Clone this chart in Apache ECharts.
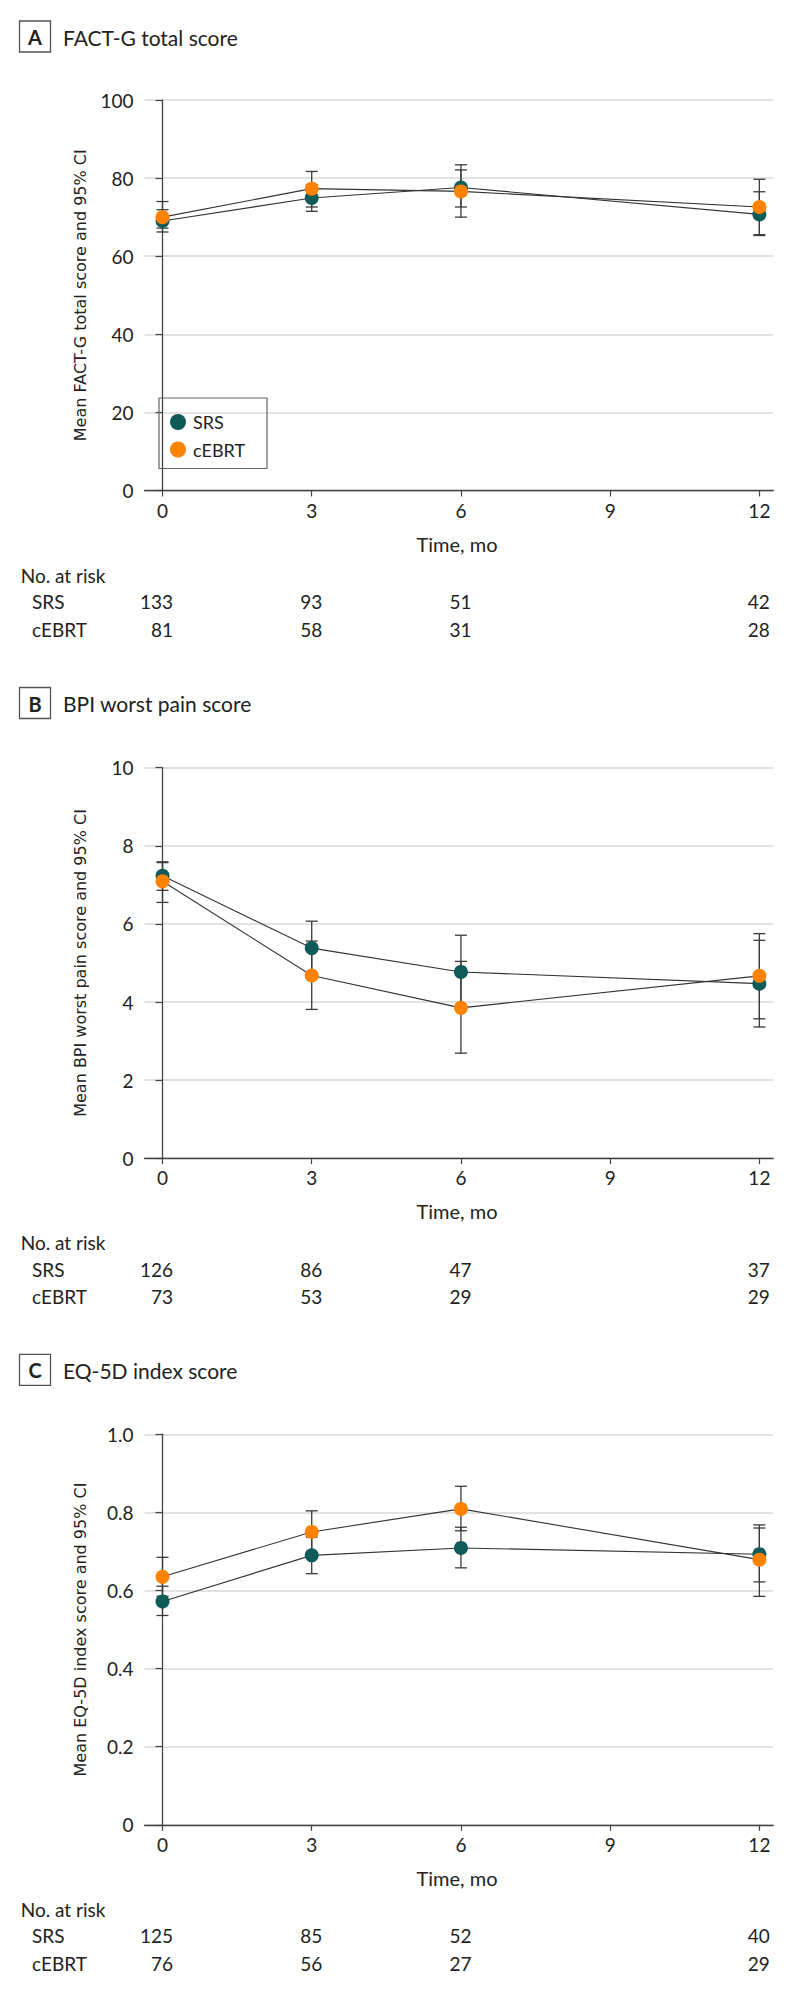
<!DOCTYPE html>
<html>
<head>
<meta charset="utf-8">
<script src="https://cdn.jsdelivr.net/npm/echarts@6/dist/echarts.min.js"></script>
<style>
html,body{margin:0;padding:0;background:#fff;}
#chart{width:794px;height:1993px;}
</style>
</head>
<body>
<div id="chart"></div>
<script>
// ---------- data ----------
const months = [0, 3, 6, 12];
const xTicks = [0, 3, 6, 9, 12];

const factSrsMean  = [69.0, 74.9, 77.6, 70.7];
const factSrsLow   = [66.2, 71.5, 72.6, 65.3];
const factSrsHigh  = [71.9, 78.3, 82.1, 76.5];
const factEbrtMean = [70.0, 77.3, 76.6, 72.6];
const factEbrtLow  = [67.2, 72.6, 70.0, 65.5];
const factEbrtHigh = [74.0, 81.7, 83.4, 79.7];

const bpiSrsMean  = [7.23, 5.38, 4.77, 4.47];
const bpiSrsLow   = [6.86, 4.69, 3.83, 3.36];
const bpiSrsHigh  = [7.59, 6.07, 5.71, 5.58];
const bpiEbrtMean = [7.09, 4.68, 3.85, 4.67];
const bpiEbrtLow  = [6.55, 3.81, 2.69, 3.57];
const bpiEbrtHigh = [7.57, 5.56, 5.04, 5.75];

const eqSrsMean  = [0.572, 0.690, 0.709, 0.693];
const eqSrsLow   = [0.536, 0.643, 0.658, 0.622];
const eqSrsHigh  = [0.611, 0.737, 0.762, 0.760];
const eqEbrtMean = [0.635, 0.750, 0.809, 0.679];
const eqEbrtLow  = [0.585, 0.696, 0.753, 0.585];
const eqEbrtHigh = [0.685, 0.804, 0.867, 0.768];

const factRiskSrs = [133, 93, 51, 42];
const factRiskEbrt = [81, 58, 31, 28];
const bpiRiskSrs = [126, 86, 47, 37];
const bpiRiskEbrt = [73, 53, 29, 29];
const eqRiskSrs = [125, 85, 52, 40];
const eqRiskEbrt = [76, 56, 27, 29];

const panelLetters = ['A', 'B', 'C'];
const panelTitles = ['FACT-G total score', 'BPI worst pain score', 'EQ-5D index score'];
const yTitles = ['Mean FACT-G total score and 95% CI', 'Mean BPI worst pain score and 95% CI', 'Mean EQ-5D index score and 95% CI'];
const yMax = [100, 10, 1.0];
const yStep = [20, 2, 0.2];
const groupNames = ['SRS', 'cEBRT'];
const xAxisTitle = 'Time, mo';
const riskTitle = 'No. at risk';

// ---------- layout ----------
const COLORS = {SRS: '#0f5b5a', cEBRT: '#ff8300'};
const TXT = '#222';
const FONT = 'Lato, "Noto Sans", sans-serif';
const gridTops = [100, 767.7, 1434.3];
const gridH = 390.5;
const gridLeft = 144.5;
const gridRight = 20.7;
const boxTops = [21, 687.5, 1354.3];

const panels = [
  {srs: [factSrsMean, factSrsLow, factSrsHigh], ebrt: [factEbrtMean, factEbrtLow, factEbrtHigh], risk: [factRiskSrs, factRiskEbrt]},
  {srs: [bpiSrsMean, bpiSrsLow, bpiSrsHigh], ebrt: [bpiEbrtMean, bpiEbrtLow, bpiEbrtHigh], risk: [bpiRiskSrs, bpiRiskEbrt]},
  {srs: [eqSrsMean, eqSrsLow, eqSrsHigh], ebrt: [eqEbrtMean, eqEbrtLow, eqEbrtHigh], risk: [eqRiskSrs, eqRiskEbrt]}
];

function errRender(params, api) {
  const x = api.value(0), lo = api.value(1), hi = api.value(2);
  const a = api.coord([x, hi]), b = api.coord([x, lo]);
  const w = 6;
  const st = {stroke: '#3a3a3a', lineWidth: 1.3};
  return {type: 'group', children: [
    {type: 'line', shape: {x1: a[0], y1: a[1], x2: b[0], y2: b[1]}, style: st},
    {type: 'line', shape: {x1: a[0] - w, y1: a[1], x2: a[0] + w, y2: a[1]}, style: st},
    {type: 'line', shape: {x1: b[0] - w, y1: b[1], x2: b[0] + w, y2: b[1]}, style: st}
  ]};
}

const grids = [], xAxes = [], yAxes = [], series = [];
panels.forEach((p, i) => {
  grids.push({left: gridLeft, right: gridRight, top: gridTops[i], height: gridH, containLabel: false});
  xAxes.push({
    type: 'value', gridIndex: i, min: -0.362, max: 12.28,
    axisLine: {show: true, lineStyle: {color: '#444', width: 1.3}},
    axisTick: {show: true, customValues: xTicks, length: 6, lineStyle: {color: '#444', width: 1.2}},
    axisLabel: {customValues: xTicks, fontSize: 19, fontFamily: FONT, color: TXT, margin: 10},
    splitLine: {show: false}
  });
  yAxes.push({
    type: 'value', gridIndex: i, min: 0, max: yMax[i], interval: yStep[i],
    axisLine: {show: true, lineStyle: {color: '#444', width: 1.3}},
    axisTick: {show: true, length: 7, lineStyle: {color: '#444', width: 1.2}},
    axisLabel: {fontSize: 19, fontFamily: FONT, color: TXT, margin: 11,
      formatter: v => (i === 2 ? (v === 0 ? '0' : v.toFixed(1)) : String(v))},
    splitLine: {show: true, lineStyle: {color: '#d9d9d9', width: 1.6}}
  });
  [['SRS', p.srs], ['cEBRT', p.ebrt]].forEach(([name, arr], k) => {
    series.push({
      type: 'custom', name: name + ' CI', xAxisIndex: i, yAxisIndex: i, z: 1,
      renderItem: errRender, encode: {x: 0, y: [1, 2]},
      data: months.map((m, j) => [m, arr[1][j], arr[2][j]]),
      silent: true, animation: false
    });
  });
  [['SRS', p.srs], ['cEBRT', p.ebrt]].forEach(([name, arr], k) => {
    series.push({
      type: 'line', name: name, xAxisIndex: i, yAxisIndex: i, z: 2 + k,
      data: months.map((m, j) => [m, arr[0][j]]),
      symbol: 'circle', symbolSize: 14, showSymbol: true,
      itemStyle: {color: COLORS[name]},
      lineStyle: {color: '#333', width: 1.1},
      emphasis: {disabled: true}, silent: true, animation: false
    });
  });
});

const chart = echarts.init(document.getElementById('chart'), null, {renderer: 'svg'});
chart.setOption({
  animation: false,
  backgroundColor: '#fff',
  grid: grids, xAxis: xAxes, yAxis: yAxes, series: series,
  legend: {
    data: groupNames, orient: 'vertical', left: 159, top: 398,
    icon: 'circle', itemWidth: 20, itemHeight: 16, itemGap: 9.5,
    padding: [15, 22, 10, 11],
    borderColor: '#666', borderWidth: 1.2,
    textStyle: {fontSize: 18, fontFamily: FONT, color: TXT, lineHeight: 18},
    selectedMode: false
  }
});

// ---------- text via graphic ----------
const g = [];
panels.forEach((p, i) => {
  const bt = boxTops[i];
  const gTop = gridTops[i], gBot = gridTops[i] + gridH;
  g.push({type: 'rect', shape: {x: 19.5, y: bt, width: 31, height: 31},
    style: {fill: 'none', stroke: '#555', lineWidth: 1.3}});
  g.push({type: 'text', x: 35, y: bt + 16, style: {text: panelLetters[i], font: 'bold 20px ' + FONT,
    fill: TXT, align: 'center', verticalAlign: 'middle'}});
  g.push({type: 'text', x: 63, y: bt + 16, style: {text: panelTitles[i], font: '21px ' + FONT,
    fill: TXT, align: 'left', verticalAlign: 'middle'}});
  g.push({type: 'text', x: 80, y: (gTop + gBot) / 2, rotation: Math.PI / 2,
    style: {text: yTitles[i], font: '16px "DejaVu Sans", sans-serif', fill: TXT, align: 'center', verticalAlign: 'middle'}});
  g.push({type: 'text', x: 457, y: gBot + 53, style: {text: xAxisTitle, font: '20px ' + FONT,
    fill: TXT, align: 'center', verticalAlign: 'middle'}});
  g.push({type: 'text', x: 20.7, y: gBot + 84.5, style: {text: riskTitle, font: '19px ' + FONT,
    fill: TXT, align: 'left', verticalAlign: 'middle'}});
  groupNames.forEach((nm, k) => {
    const yy = gBot + 111 + k * 27.5;
    g.push({type: 'text', x: 32, y: yy, style: {text: nm, font: '19px ' + FONT,
      fill: TXT, align: 'left', verticalAlign: 'middle'}});
    months.forEach((m, j) => {
      const px = chart.convertToPixel({xAxisIndex: i}, m);
      g.push({type: 'text', x: px + 10.5, y: yy, style: {text: String(p.risk[k][j]), font: '19px ' + FONT,
        fill: TXT, align: 'right', verticalAlign: 'middle'}});
    });
  });
});
chart.setOption({graphic: g});
</script>
</body>
</html>
